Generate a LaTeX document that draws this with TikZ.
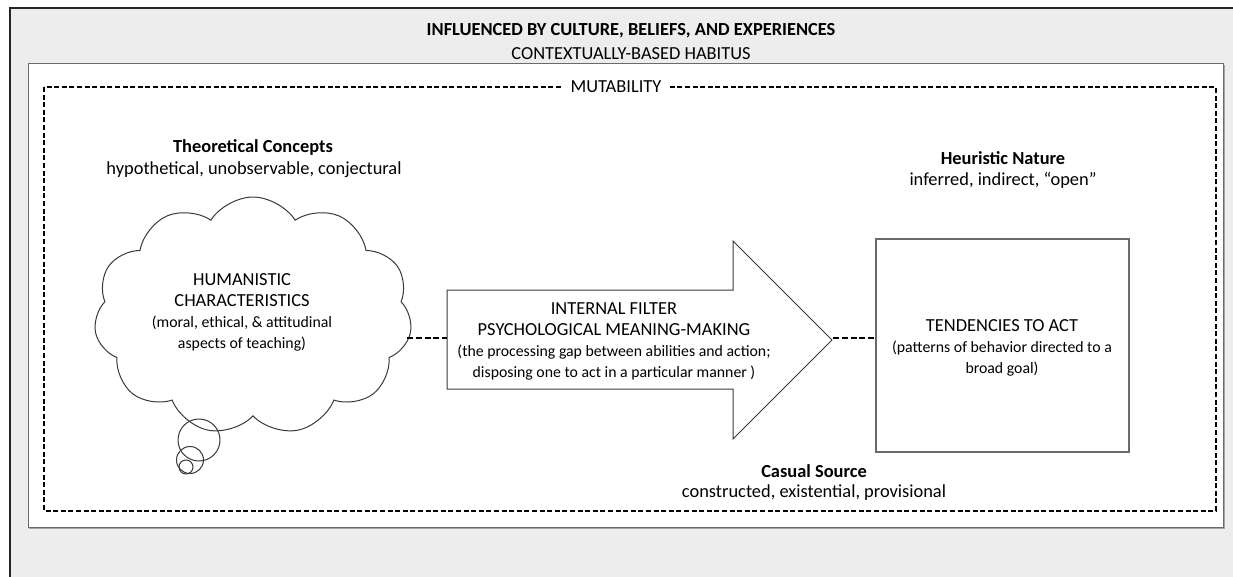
\documentclass[tikz,border=0pt]{standalone}
\usepackage{fontspec}
\setmainfont{Carlito}
\usetikzlibrary{shapes.symbols}

\definecolor{panelgray}{HTML}{EDEDED}
\definecolor{inkgray}{HTML}{3A3A3A}
\definecolor{boxgray}{HTML}{6A6A6A}

\newcommand{\smalltext}{\fontsize{15.8}{21}\selectfont}

\begin{document}
\begin{tikzpicture}[x=1pt,y=-1pt,
  big/.style={font=\fontsize{18.4}{21}\selectfont, inner sep=0pt, align=center},
  bigbold/.style={big, font=\fontsize{18.4}{21}\selectfont\bfseries},
  dashline/.style={line width=1.8, dash pattern=on 5pt off 2.6pt},
  linkline/.style={line width=2, dash pattern=on 6pt off 2.8pt},
  shapeline/.style={draw=inkgray, line width=1}]

\useasboundingbox (0,0) rectangle (1233,577);
\clip (0,0) rectangle (1233,577);

% outer grey panel
\draw[fill=panelgray, draw=black!85, line width=1.6] (10,8) rectangle (1245,590);

% headings of the panel
\node[bigbold] (title) at (631,31) {INFLUENCED BY CULTURE, BELIEFS, AND EXPERIENCES};
\node[big] (subtitle) at (631,54) {CONTEXTUALLY-BASED HABITUS};

% white inner box with a soft lower/right edge
\draw[draw=black!35, line width=1.2] (29.5,65.5) rectangle (1224.5,528.5);
\draw[fill=white, draw=boxgray, line width=1] (28,64) rectangle (1223,527);

% dashed frame
\draw[dashline] (44,87) rectangle (1216,511);
\node[big, fill=white, inner xsep=8pt, inner ysep=2pt] (mut) at (616,87) {MUTABILITY};

% left: thought cloud
\node[bigbold] (theo) at (253,147) {Theoretical Concepts};
\node[big] (theosub) at (254,170) {hypothetical, unobservable, conjectural};

\node[cloud, shapeline, fill=white, cloud puffs=11, cloud puff arc=115, aspect=1.35,
      minimum width=318, minimum height=238] (cloud) at (253,316) {};
\draw[shapeline] (199,440) circle[radius=21];
\draw[shapeline] (190,460) circle[radius=13.5];
\draw[shapeline] (186,467) circle[radius=7];

\node[big] (human) at (242,312) {HUMANISTIC\\CHARACTERISTICS\\
  {\smalltext (moral, ethical, \& attitudinal}\\
  {\smalltext aspects of teaching)}};

% middle: block arrow
\coordinate (tail) at (447,338);
\coordinate (tip) at (832,340);
\filldraw[fill=white, shapeline]
  (447,290) -- (733,290) -- (733,241) -- (tip) -- (733,439)
  -- (733,389) -- (447,389) -- cycle;
\node[big] (filter) at (614,341) {INTERNAL FILTER\\PSYCHOLOGICAL MEANING-MAKING\\
  {\smalltext (the processing gap between abilities and action;}\\
  {\smalltext disposing one to act in a particular manner )}};

% right: tendencies box
\node[bigbold] (heur) at (1003,158) {Heuristic Nature};
\node[big] (heursub) at (1003,180) {inferred, indirect, \char"201Copen\char"201D};

\node[draw=boxgray, line width=1.1, fill=white, minimum width=253, minimum height=213,
      inner sep=0pt] (act) at (1002.5,345.5) {};
\node[big] (acttext) at (1002,348) {TENDENCIES TO ACT\\
  {\smalltext (patterns of behavior directed to a}\\
  {\smalltext broad goal)}};

% bottom caption
\node[bigbold] (cause) at (814,471) {Casual Source};
\node[big] (causesub) at (814,493) {constructed, existential, provisional};

% dashed links
\coordinate (cloudedge) at (407,338);
\coordinate (tipend) at (833,338);
\draw[linkline] (cloudedge) -- (tail);
\draw[linkline] (tipend) -- (tipend -| act.west);

\end{tikzpicture}
\end{document}
